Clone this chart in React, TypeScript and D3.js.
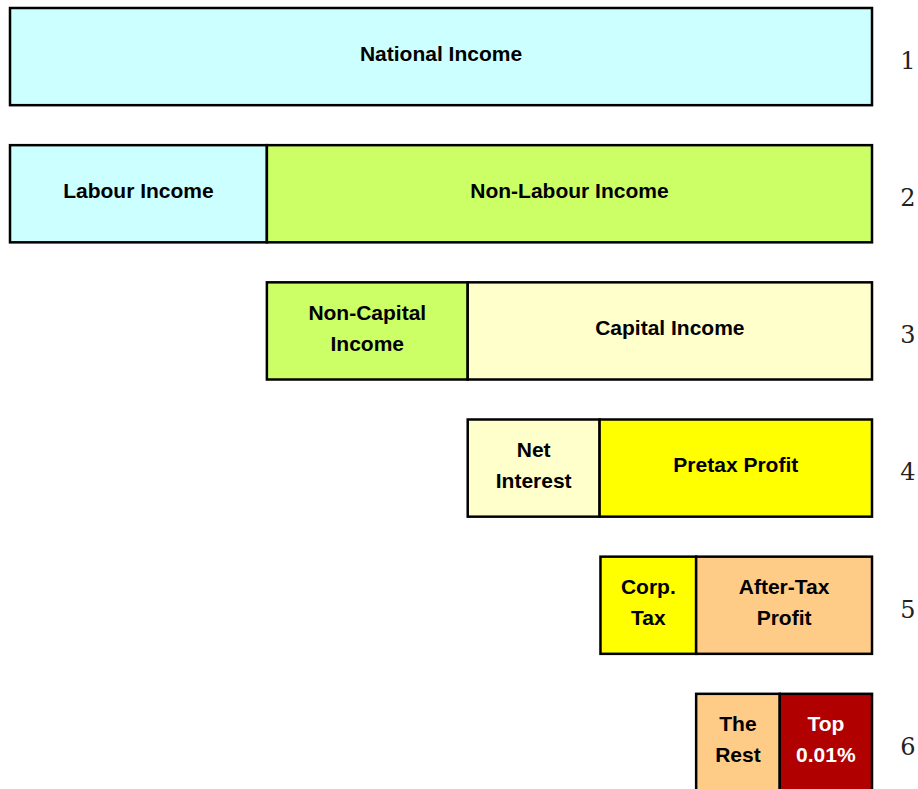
import React from 'react';
import * as d3 from 'd3';

// share of national income (%) for each box, rows read left to right
const rowNames = ['1', '2', '3', '4', '5', '6'];
const rowLabels = [
  ['National Income'],
  ['Labour Income', 'Non-Labour Income'],
  ['Non-Capital\nIncome', 'Capital Income'],
  ['Net\nInterest', 'Pretax Profit'],
  ['Corp.\nTax', 'After-Tax\nProfit'],
  ['The\nRest', 'Top\n0.01%'],
];
const rowValues = [
  [100],
  [29.8, 70.2],
  [23.3, 46.9],
  [15.3, 31.6],
  [11.1, 20.4],
  [9.7, 10.7],
];
const rowColors = [
  ['#CCFFFF'],
  ['#CCFFFF', '#CCFF66'],
  ['#CCFF66', '#FFFFCC'],
  ['#FFFFCC', '#FFFF00'],
  ['#FFFF00', '#FFCC88'],
  ['#FFCC88', '#B00000'],
];

const width = 918;
const height = 789;

export default function App() {
  const x = d3.scaleLinear().domain([0, 100]).range([10, 872]);
  // row step ~137px, box height ~97px
  const y = d3.scaleBand().domain(rowNames).range([8, 791]).paddingInner(40 / 137.2).paddingOuter(0);
  const bh = y.bandwidth();

  return (
    <svg width={width} height={height} style={{ position: 'absolute', left: 0, top: 0 }}>
      {rowNames.map((r, i) => {
        const vals = rowValues[i];
        const total = d3.sum(vals);
        let start = 100 - total;
        const y0 = y(r) as number;
        return (
          <g key={r}>
            {vals.map((v, j) => {
              const x0 = x(start);
              const x1 = x(start + v);
              start += v;
              const lines = rowLabels[i][j].split('\n');
              const cx = (x0 + x1) / 2;
              const cy = y0 + bh / 2 - 3;
              const lh = 31;
              const isDark = rowColors[i][j] === '#B00000';
              return (
                <g key={j}>
                  <rect x={x0} y={y0} width={x1 - x0} height={bh}
                    fill={rowColors[i][j]} stroke="#000" strokeWidth={2.5} />
                  <text textAnchor="middle" fontFamily="'Liberation Sans', Arial, sans-serif"
                    fontWeight="bold" fontSize={21} fill={isDark ? '#fff' : '#000'}>
                    {lines.map((l, k) => (
                      <tspan key={k} x={cx}
                        y={cy + (k - (lines.length - 1) / 2) * lh} dy="0.35em">{l}</tspan>
                    ))}
                  </text>
                </g>
              );
            })}
            <text x={908} y={y0 + bh / 2 + 4} dy="0.35em" textAnchor="middle"
              fontFamily="'DejaVu Serif', 'Liberation Serif', serif" fontSize={24} fill="#222">{r}</text>
          </g>
        );
      })}
    </svg>
  );
}
